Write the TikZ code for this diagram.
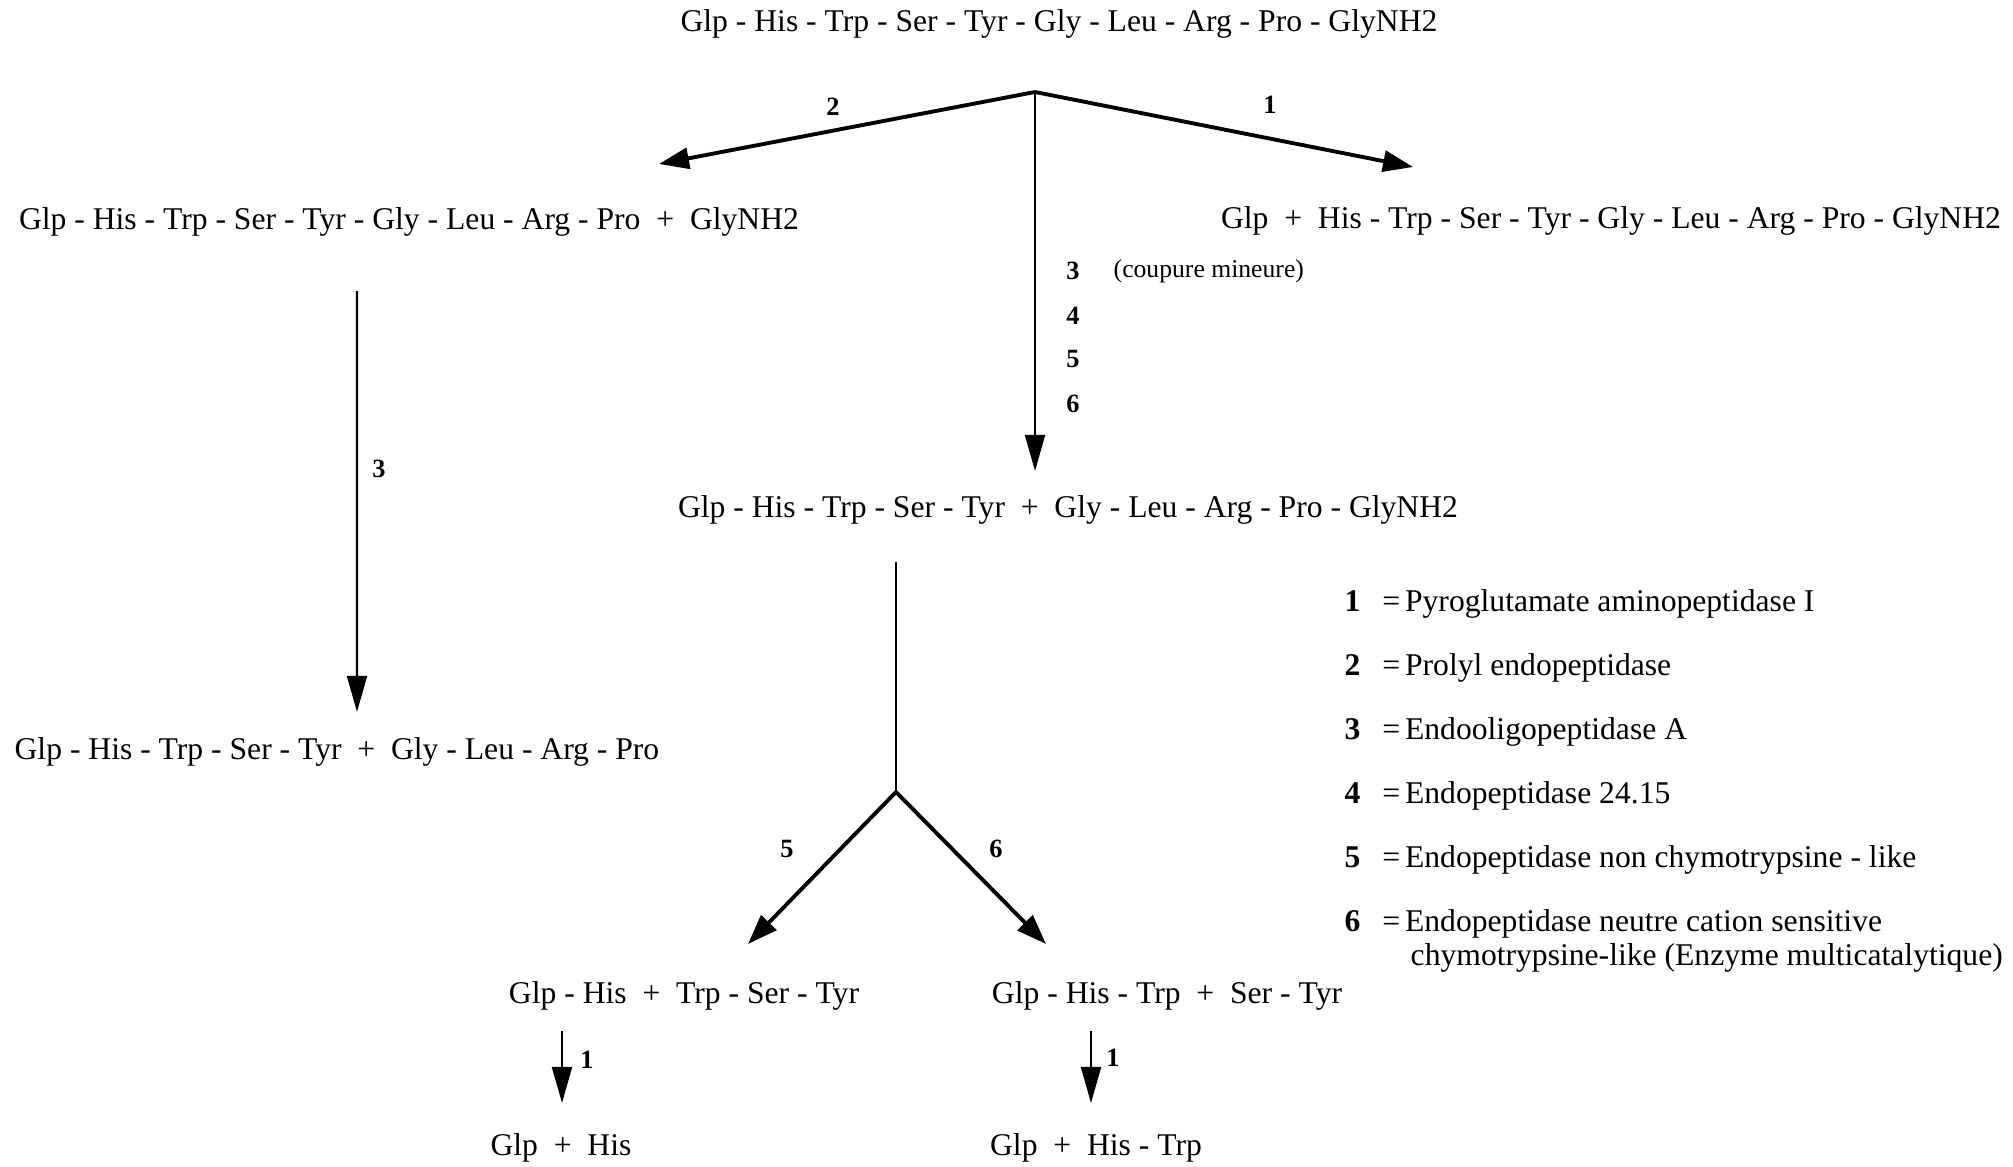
\documentclass[tikz,border=0pt]{standalone}
\usepackage{fontspec}
\setmainfont{Liberation Serif}
\usepackage{tikz}
\usetikzlibrary{arrows.meta,calc}
\newcommand{\eqsep}{\hspace{6.2pt}=\hspace{1.4pt}}
\tikzset{
  pep/.style={font=\fontsize{9}{11}\selectfont,inner sep=0pt},
  enz/.style={font=\fontsize{7.5}{9}\selectfont\bfseries,inner sep=0pt},
  note/.style={font=\fontsize{7.3}{9}\selectfont,inner sep=0pt},
  legrow/.style={font=\fontsize{9}{11}\selectfont,inner sep=0pt,anchor=west},
  cut/.style={-{Triangle[length=3mm,width=2.1mm]},line width=1.1pt},
  cutv/.style={-{Triangle[length=3.6mm,width=2mm]},line width=0.6pt},
  stem/.style={line width=0.6pt},
}
\begin{document}
\begin{tikzpicture}
  \useasboundingbox (0,0) rectangle (20.13,-11.67);
  % substrate
  \node[pep] (nona) at (10.59,-0.24) {Glp - His - Trp - Ser - Tyr - Gly - Leu - Arg - Pro - GlyNH2};
  \coordinate (fork1) at (10.35,-0.92);
  \coordinate (tip2) at (6.59,-1.64);
  \coordinate (tip1) at (14.13,-1.67);
  % first cleavages
  \node[pep] (frag2) at (4.09,-2.22) {Glp - His - Trp - Ser - Tyr - Gly - Leu - Arg - Pro~~+~~GlyNH2};
  \node[pep] (frag1) at (16.11,-2.21) {Glp~~+~~His - Trp - Ser - Tyr - Gly - Leu - Arg - Pro - GlyNH2};
  \node[pep] (frag5) at (10.68,-5.10) {Glp - His - Trp - Ser - Tyr~~+~~Gly - Leu - Arg - Pro - GlyNH2};
  \node[pep] (frag23) at (3.37,-7.52) {Glp - His - Trp - Ser - Tyr~~+~~Gly - Leu - Arg - Pro};
  \draw[cut] (fork1) -- (tip2);
  \draw[cut] (fork1) -- (tip1);
  \draw[cutv,shorten >=2.4mm] (fork1) -- (fork1 |- frag5.north);
  \draw[cutv,shorten <=5.4mm,shorten >=2.5mm] ([xshift=-5.2mm]frag2.south) -- ([xshift=2mm]frag23.north);
  \node[enz] (e2) at (8.33,-1.07) {2};
  \node[enz] (e1) at (12.70,-1.05) {1};
  \node[enz] (e3a) at (3.79,-4.69) {3};
  \node[enz] (e3) at (10.73,-2.71) {3};
  \node[note,anchor=west] (minor) at (11.13,-2.71) {(coupure mineure)};
  \node[enz] (e4) at (10.73,-3.16) {4};
  \node[enz] (e5) at (10.73,-3.59) {5};
  \node[enz] (e6) at (10.73,-4.04) {6};
  % second cleavages
  \coordinate (fork2) at (8.96,-7.92);
  \coordinate (tip5) at (7.48,-9.44);
  \coordinate (tip6) at (10.46,-9.44);
  \draw[stem,shorten <=3.7mm] (fork2 |- frag5.south) -- (fork2);
  \draw[cut] (fork2) -- (tip5);
  \draw[cut] (fork2) -- (tip6);
  \node[enz] (e5b) at (7.87,-8.49) {5};
  \node[enz] (e6b) at (9.96,-8.49) {6};
  \node[pep] (cut5) at (6.84,-9.96) {Glp - His~~+~~Trp - Ser - Tyr};
  \node[pep] (cut6) at (11.67,-9.96) {Glp - His - Trp~~+~~Ser - Tyr};
  \node[pep] (end5) at (5.61,-11.48) {Glp~~+~~His};
  \node[pep] (end6) at (10.96,-11.48) {Glp~~+~~His - Trp};
  \draw[cutv,shorten <=2mm,shorten >=3mm] ([xshift=0.1mm]end5.north |- cut5.south) -- ([xshift=0.1mm]end5.north);
  \draw[cutv,shorten <=2mm,shorten >=3mm] ([xshift=-0.5mm]end6.north |- cut6.south) -- ([xshift=-0.5mm]end6.north);
  \node[enz] (e1b) at (5.87,-10.60) {1};
  \node[enz] (e1c) at (11.13,-10.58) {1};
  % legend
  \node[legrow] (leg1) at (13.44,-6.04) {\textbf{1}\eqsep Pyroglutamate aminopeptidase I};
  \node[legrow] (leg2) at (13.44,-6.68) {\textbf{2}\eqsep Prolyl endopeptidase};
  \node[legrow] (leg3) at (13.44,-7.32) {\textbf{3}\eqsep Endooligopeptidase A};
  \node[legrow] (leg4) at (13.44,-7.96) {\textbf{4}\eqsep Endopeptidase 24.15};
  \node[legrow] (leg5) at (13.44,-8.60) {\textbf{5}\eqsep Endopeptidase non chymotrypsine - like};
  \node[legrow] (leg6) at (13.44,-9.24) {\textbf{6}\eqsep Endopeptidase neutre cation sensitive};
  \node[legrow] (leg6b) at (14.10,-9.58) {chymotrypsine-like (Enzyme multicatalytique)};
\end{tikzpicture}
\end{document}
